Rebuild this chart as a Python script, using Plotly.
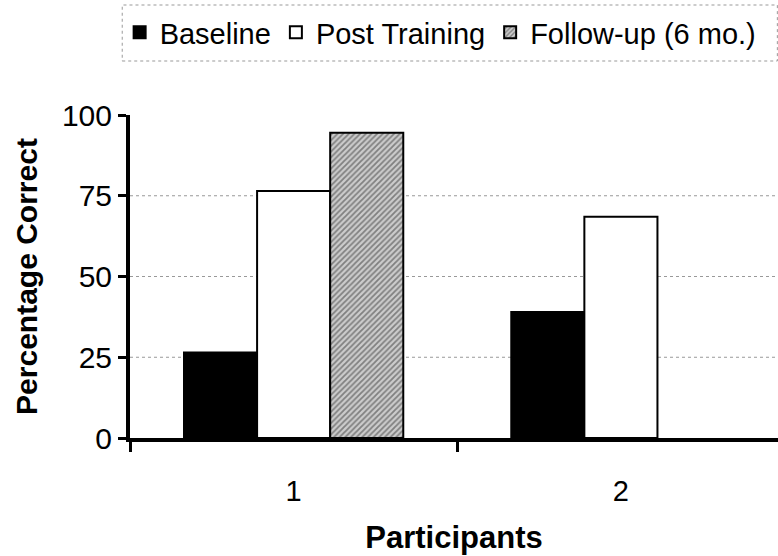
import plotly.graph_objects as go

participants = ["1", "2"]
baseline = [26.5, 39]
post_training = [76.5, 68.5]
follow_up = [94.5, None]
grid_values = [25, 50, 75]
y_ticks = [0, 25, 50, 75, 100]

FONT = "Liberation Sans, Arial, sans-serif"

fig = go.Figure()
fig.add_trace(go.Bar(
    x=participants, y=baseline, name="Baseline",
    marker=dict(color="black", line=dict(color="black", width=2)),
))
fig.add_trace(go.Bar(
    x=participants, y=post_training, name="Post Training",
    marker=dict(color="white", line=dict(color="black", width=2)),
))
fig.add_trace(go.Bar(
    x=participants, y=follow_up, name="Follow-up (6 mo.)",
    marker=dict(color="#bbbbbb", line=dict(color="black", width=2),
                pattern=dict(shape="/", fgcolor="#333333", bgcolor="#cccccc",
                             size=4, solidity=0.45)),
))

for g in grid_values:
    fig.add_shape(type="line", xref="paper", yref="y", x0=0, x1=1, y0=g, y1=g,
                  line=dict(color="#999999", width=1, dash="dot"), layer="below")

# dotted legend box
fig.add_shape(type="rect", xref="paper", yref="paper",
              x0=-0.012, x1=0.999, y0=(438 - 61) / 323, y1=(438 - 5) / 323,
              line=dict(color="#999999", width=1, dash="dot"))

fig.update_layout(
    width=778, height=556,
    margin=dict(l=130, r=0, t=115, b=118),
    paper_bgcolor="white", plot_bgcolor="white",
    barmode="group", bargap=0.33, bargroupgap=0,
    font=dict(family=FONT, color="black", size=29),
    showlegend=True,
    legend=dict(orientation="h", x=-0.016, xanchor="left",
                y=(438 - 7) / 323, yanchor="top",
                font=dict(size=29, family=FONT), bgcolor="rgba(0,0,0,0)",
                borderwidth=0, itemwidth=30, traceorder="normal"),
    xaxis=dict(
        type="category", range=[-0.5, 1.48],
        showline=True, linecolor="black", linewidth=4,
        ticks="outside", tickson="boundaries", ticklen=10, tickwidth=3,
        tickcolor="black", ticklabelstandoff=24,
        tickfont=dict(size=29, family=FONT),
        showgrid=False, zeroline=False,
        title=dict(text="<b>Participants</b>", font=dict(size=31, family=FONT), standoff=22),
    ),
    yaxis=dict(
        range=[0, 100], tickvals=y_ticks,
        showline=True, linecolor="black", linewidth=4,
        ticks="outside", ticklen=8, tickwidth=3, tickcolor="black",
        tickfont=dict(size=30, family=FONT),
        showgrid=False, zeroline=False,
        title=dict(text="<b>Percentage Correct</b>", font=dict(size=30, family=FONT), standoff=16),
    ),
)

fig.write_html("out.html")
